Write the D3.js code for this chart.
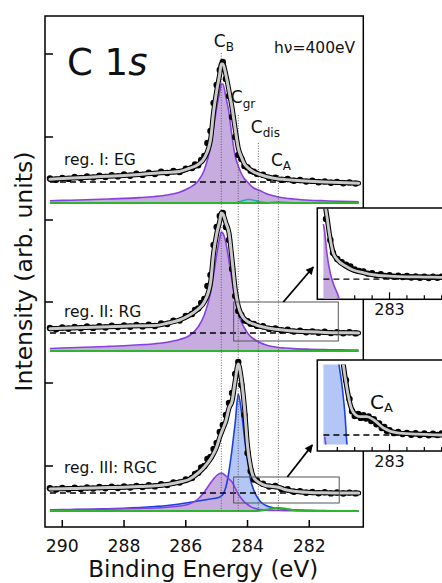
<!DOCTYPE html>
<html><head><meta charset="utf-8">
<script src="https://cdn.jsdelivr.net/npm/d3@7"></script>
<style>
html,body{margin:0;padding:0;background:#fff;}
svg{display:block;font-family:"DejaVu Sans",sans-serif;}
</style></head><body>
<svg id="chart" width="442" height="583"></svg>
<script>
// ---------- DATA (binding energy in eV, intensity in arb. units) ----------
const compE=[290.4,290.0,289.5,289.0,288.5,288.0,287.5,287.0,286.6,286.2,285.9,285.6,285.4,285.2,285.1,285.0,284.9,284.85,284.8,284.7,284.6,284.5,284.4,284.3,284.2,284.1,284.0,283.9,283.8,283.6,283.4,283.2,283.0,282.8,282.5,282.0,281.5,281.0,280.4];
const dataE=[290.4,290.2,290.0,289.8,289.6,289.4,289.2,289.0,288.8,288.6,288.4,288.2,288.0,287.8,287.6,287.4,287.2,287.0,286.8,286.6,286.4,286.2,286.0,285.8,
 285.7,285.6,285.5,285.4,285.3,285.2,285.1,285.0,284.9,284.8,284.7,284.6,284.5,284.4,284.3,284.2,284.1,284.0,283.9,283.8,283.7,
 283.5,283.3,283.1,282.9,282.7,282.5,282.3,282.1,281.9,281.7,281.5,281.3,281.1,280.9,280.7,280.5];

// region I: EG
const fitI=[23.7,24.4,25.2,26.0,26.8,27.6,28.6,29.8,30.6,31.5,34.5,38.5,45,63,91,112,129,139,139,128,112,95,74,55,46,39,35.5,33,31,28.5,26.5,25,24,23.5,22.8,21.8,21,20.4,19.8];
const purpleI=[2.2,2.6,3.0,3.5,4.0,4.6,5.4,6.5,8.0,10.8,15,22,33,56,76,95,112,119,119,106,90,66,47,37,29.5,24,21,17.5,15,12.5,9.5,7.5,6,5,4,2.8,2.2,1.7,1.3];
const blueI=[0,0,0,0,0,0,0,0,0,0,0,0,0,0,0,0,0,0,0,0,0,0,0.2,0.8,1.8,2.8,3.5,3.5,2.8,1.2,0.4,0.1,0,0,0,0,0,0,0];
const greenI=[0,0,0,0,0,0,0,0,0,0,0,0,0,0,0,0,0,0,0,0,0,0,0,0,0,0,0,0,0,0,0,0.4,0.7,0.4,0,0,0,0,0];
const dataI=[24.5,23.2,25.0,24.1,26.0,24.8,26.5,25.4,27.2,26.0,27.9,26.6,28.5,27.2,29.3,28.1,30.4,29.0,31.2,30.0,32.0,31.0,34.3,35.0,
 38.5,37.8,43,47,60,72,100,118,133,141,124,107,86,66,48,44,37,35.5,32.2,31.2,29.2,
 28.2,25.1,25.2,23.1,24.0,22.2,23.0,21.4,22.3,20.8,21.6,20.2,21.1,19.8,20.6,19.4];

// region II: RG
const fitII=[22.3,22.8,23.3,23.8,24.3,24.8,25.2,25.5,27.8,31,35.5,42,49,68,98,117,130,138,137,128,118,91,62,45,36.5,32,29.5,28,26.8,24.7,23.3,22.2,21.4,20.8,20,19.2,18.6,18.3,18];
const purpleII=[2.5,3,3.5,4,4.6,5.3,6.2,7.3,8.8,11.5,15,24,36,58,76,96,113,119,118,108,90,70,51,38,29,23,18,14.5,12,8.5,6,4.5,3.5,3,2.4,1.8,1.4,1.1,0.9];
const greenII=[0,0,0,0,0,0,0,0,0,0,0,0,0,0,0,0,0,0,0,0,0,0,0,0,0,0,0,0,0,0,0,0,0,0,0,0,0,0,0];
const dataII=[23.0,21.8,23.6,22.3,24.0,22.7,24.5,23.1,24.9,23.5,25.3,23.9,25.6,24.3,26.0,24.6,26.4,25.0,27.5,27.0,30.3,30.4,35.0,37.0,
 41.0,42.5,48,52,65,76,106,124,135,138,124,111,82,55,40,36,30.5,29.8,27.3,27.1,25.1,
 24.8,22.1,22.5,20.5,21.2,19.4,20.3,18.8,19.6,18.2,19.2,17.9,18.9,17.8,18.7,17.6];

// region III: RGC
const fitIII=[22,22.3,22.6,23,23.4,23.8,24.4,25.2,26.5,29,31.5,38,44,52,57.4,64,74,78,82,90,103,110,130,147,132,104,65,44,33.5,28,25.3,24.5,23.8,21.5,19.8,18.6,18.2,18,18];
const purpleIII=[1.2,1.4,1.6,1.8,2.0,2.3,2.6,3,3.8,5,6.8,12,19,28,32,35.5,37.5,38,37.5,35,32,29,23,17,12.5,9,6.5,4.4,3,1.5,0.9,0.6,0.5,0.4,0.3,0.2,0.15,0.1,0.1];
const blueIII=[0.6,1,1.4,1.8,2.3,2.8,3.5,4.5,5.5,7,8.5,10,11,12,12.5,13,14,15,16.5,24,40,62,88,117,100,74,50,31,21,10,5.5,3.5,2.5,1.8,1.2,0.7,0.4,0.2,0.1];
const greenIII=[0,0,0,0,0,0,0,0,0,0,0,0,0,0,0,0,0,0,0,0,0,0,0,0,0,0,0,0,0,0.3,1.2,2.6,3.3,2.4,0.8,0.1,0,0,0];
const dataIII=[22.8,21.5,23.1,21.8,23.3,22.0,23.6,22.4,24.0,22.7,24.3,23.0,24.6,23.4,25.1,24.0,25.8,24.6,26.7,25.9,28.6,28.4,31.6,33.0,
 37.0,38.2,43.5,45,52,54,62,68,79,86,96,108,118,137,149,126,96,58,40,31.5,30.8,
 27.3,24.4,25.0,22.0,21.7,19.2,19.9,18.3,19.0,17.8,18.7,17.6,18.5,17.5,18.4,17.6];

const bgLevel=[21,18,18];
const stackOffset=[324,176,16];
const regionLabels=['reg. I: EG','reg. II: RG','reg. III: RGC'];

const xTicks=[290,288,286,284,282];
const yTicks=[61,144,225,307,390,473];
const peakE=[284.85,284.3,283.65,283.0];
const peakSub=['B','gr','dis','A'];

// insets
const insetTicks=[283.6,283.4,283.2,283.0,282.8,282.6,282.4];
const insetMajor=[283];
const in2E=[283.73,283.68,283.65,283.60,283.55,283.50,283.45,283.40,283.35,283.30,283.25,283.20,283.15,283.10,283.05,283.00,282.95,282.90,282.85,282.80,282.75,282.70,282.65,282.60,282.55,282.50,282.45,282.40,282.35,282.30];
const in2Data=[44.2,35.1,29.4,26.8,25.4,24.3,23.5,22.2,21.6,21.3,20.4,20.6,19.7,20.1,19.4,19.7,19.0,19.5,18.9,19.4,18.7,19.2,18.6,19.1,18.5,19.0,18.6,19.1,18.5,18.9];
const in2FitE=[283.735,283.72,283.69,283.65,283.6,283.5,283.42,283.3,283.19,283.0,282.88,282.6,282.42,282.2];
const in2Fit=[49,45.5,37.5,29.8,26.5,23.6,22.0,20.8,19.9,19.3,19.1,18.9,18.8,18.7];
const in2PurpleE=[283.76,283.75,283.72,283.68,283.64,283.60,283.58,283.55,283.5];
const in2Purple=[42,40.1,29.3,20.5,15.4,11.8,9.6,7.5,5];

const in3E=[283.50,283.46,283.43,283.40,283.36,283.33,283.30,283.27,283.24,283.21,283.18,283.15,283.12,283.09,283.06,283.03,283.00,282.95,282.90,282.85,282.80,282.75,282.70,282.65,282.60,282.55,282.50,282.45,282.40,282.35,282.30];
const in3Data=[36.0,29.8,25.8,24.2,24.9,23.6,24.5,23.4,24.1,22.6,23.2,21.5,21.8,20.3,20.6,19.3,19.6,18.6,19.0,18.3,18.7,18.1,18.6,18.0,18.5,17.9,18.4,18.0,18.5,17.9,18.3];
const in3FitE=[283.56,283.53,283.49,283.45,283.39,283.34,283.26,283.18,283.07,282.91,282.7,282.42,282.2];
const in3Fit=[48,40.9,33.4,27.8,24.6,24.0,24.0,22.9,20.3,18.7,18.3,18.0,18.0];
const in3BlueE=[283.76,283.7,283.65,283.6,283.58,283.54,283.51,283.49,283.47,283.44];
const in3Blue=[80,70,58,45,41,32.8,24.0,15.4,13,11];
const in3PurpleE=[283.745,283.735,283.725];
const in3Purple=[17.5,15.5,13.5];

// ---------- DRAWING ----------
const W=442,H=583;
const COL={purpleLine:'#8a3fe0',purpleFill:'#c7addf',blueLine:'#1c3fe4',blueFill:'#b3c6f6',teal:'#23a6c8',green:'#2db52d',fit:'#c9c9c9'};
const svg=d3.select('#chart');
svg.append('rect').attr('width',W).attr('height',H).attr('fill','#fff');
const defs=svg.append('defs');
const frame={l:45,t:16,r:363.3,b:527};
const x=d3.scaleLinear().domain([290.56,280.25]).range([frame.l,frame.r]);
const y=d3.scaleLinear().domain([0,511]).range([frame.b,frame.t]);

defs.append('clipPath').attr('id','plotClip').append('rect')
  .attr('x',frame.l).attr('y',frame.t).attr('width',frame.r-frame.l).attr('height',frame.b-frame.t);
defs.append('marker').attr('id','ah').attr('viewBox','0 0 10 10').attr('refX',9).attr('refY',5)
  .attr('markerWidth',10).attr('markerHeight',8).attr('markerUnits','userSpaceOnUse').attr('orient','auto')
  .append('path').attr('d','M0,0L10,5L0,10Z').attr('fill','#000');

const plot=svg.append('g').attr('clip-path','url(#plotClip)');
const mkLine=(E,sx,sy,off)=>d3.line().x((d,i)=>sx(E[i])).y(d=>sy(off+d)).curve(d3.curveMonotoneX);
const mkArea=(E,sx,sy,off,base)=>d3.area().x((d,i)=>sx(E[i])).y0(base!==undefined?base:sy(off)).y1(d=>sy(off+d)).curve(d3.curveMonotoneX);

const regions=[
  {off:stackOffset[0],bg:bgLevel[0],fit:fitI,data:dataI,purple:purpleI,blue:blueI,blueColor:COL.teal,blueFill:false,green:greenI},
  {off:stackOffset[1],bg:bgLevel[1],fit:fitII,data:dataII,purple:purpleII,blue:null,green:greenII},
  {off:stackOffset[2],bg:bgLevel[2],fit:fitIII,data:dataIII,purple:purpleIII,blue:blueIII,blueColor:COL.blueLine,blueFill:true,green:greenIII}
];

// component fills and lines
regions.forEach(r=>{
  if(r.blue&&r.blueFill) plot.append('path').attr('d',mkArea(compE,x,y,r.off)(r.blue)).attr('fill',COL.blueFill);
  plot.append('path').attr('d',mkArea(compE,x,y,r.off)(r.purple)).attr('fill',COL.purpleFill);
});
regions.forEach(r=>{
  if(r.blue) plot.append('path').attr('d',mkLine(compE,x,y,r.off)(r.blue)).attr('fill','none').attr('stroke',r.blueColor).attr('stroke-width',1.6);
  plot.append('path').attr('d',mkLine(compE,x,y,r.off)(r.purple)).attr('fill','none').attr('stroke',COL.purpleLine).attr('stroke-width',1.6);
  plot.append('path').attr('d',mkLine(compE,x,y,r.off)(r.green)).attr('fill','none').attr('stroke',COL.green).attr('stroke-width',2);
});

// guide lines
const guideTop=[53,115,143,175];
peakE.forEach((e,i)=>{
  plot.append('line').attr('x1',x(e)).attr('x2',x(e)).attr('y1',guideTop[i]).attr('y2',y(stackOffset[2]))
    .attr('stroke','#444').attr('stroke-width',0.8).attr('stroke-dasharray','1,1.6');
});

// backgrounds, data, fits
regions.forEach(r=>{
  plot.append('line').attr('x1',x(compE[0])).attr('x2',x(compE[compE.length-1]))
    .attr('y1',y(r.off+r.bg)).attr('y2',y(r.off+r.bg))
    .attr('stroke','#000').attr('stroke-width',1.3).attr('stroke-dasharray','6,4');
  plot.append('g').selectAll('circle').data(r.data).join('circle')
    .attr('cx',(d,i)=>x(dataE[i])).attr('cy',d=>y(r.off+d)).attr('r',3.2).attr('fill','#000');
  const p=mkLine(compE,x,y,r.off)(r.fit);
  plot.append('path').attr('d',p).attr('fill','none').attr('stroke','#000').attr('stroke-width',5).attr('stroke-linecap','round').attr('stroke-linejoin','round');
  plot.append('path').attr('d',p).attr('fill','none').attr('stroke',COL.fit).attr('stroke-width',3).attr('stroke-linecap','round').attr('stroke-linejoin','round');
});

// zoom rectangles
const zoomRects=[{r:1,e0:284.45,e1:281.06,v0:10,v1:49},{r:2,e0:284.45,e1:281.03,v0:8,v1:34}];
zoomRects.forEach(z=>{
  const off=stackOffset[z.r];
  svg.append('rect').attr('x',x(z.e0)).attr('y',y(off+z.v1)).attr('width',x(z.e1)-x(z.e0)).attr('height',y(off+z.v0)-y(off+z.v1))
    .attr('fill','none').attr('stroke','#555').attr('stroke-width',1);
});

// frame and axes
svg.append('rect').attr('x',frame.l).attr('y',frame.t).attr('width',frame.r-frame.l).attr('height',frame.b-frame.t)
  .attr('fill','none').attr('stroke','#000').attr('stroke-width',1.5);
yTicks.forEach(v=>{
  svg.append('line').attr('x1',frame.l).attr('x2',frame.l+8).attr('y1',y(v)).attr('y2',y(v)).attr('stroke','#000').attr('stroke-width',1.5);
});
xTicks.forEach(v=>{
  svg.append('line').attr('x1',x(v)).attr('x2',x(v)).attr('y1',frame.b).attr('y2',frame.b-7).attr('stroke','#000').attr('stroke-width',1.5);
  svg.append('text').attr('x',x(v)).attr('y',551.7).attr('text-anchor','middle').attr('font-size','17.3px').attr('fill','#111').text(v);
});
svg.append('text').attr('x',203.3).attr('y',577.3).attr('text-anchor','middle').attr('font-size','23px').attr('fill','#111').text('Binding Energy (eV)');
svg.append('text').attr('transform','translate(32,271.5) rotate(-90)').attr('text-anchor','middle').attr('font-size','23.5px').attr('fill','#111').text('Intensity (arb. units)');

// titles and labels
const t1=svg.append('text').attr('x',67).attr('y',75).attr('font-size','37px').attr('fill','#111');
t1.append('tspan').text('C 1');
t1.append('tspan').attr('font-style','italic').text('s');
svg.append('text').attr('x',274).attr('y',53.3).attr('font-size','15.5px').attr('fill','#111').text('h\u03bd=400eV');
const regLabelY=[165,316.7,472.7];
regionLabels.forEach((s,i)=>{
  svg.append('text').attr('x',64).attr('y',regLabelY[i]).attr('font-size','15.5px').attr('fill','#111').text(s);
});
const peakLabelY=[46.7,103.3,132.7,165.7];
peakE.forEach((e,i)=>{
  const t=svg.append('text').attr('x',x(e)-7.5).attr('y',peakLabelY[i]).attr('font-size','17px').attr('fill','#111');
  t.append('tspan').text('C');
  t.append('tspan').attr('font-size','12px').attr('dy',4.5).text(peakSub[i]);
});

// arrows
const insetBoxes=[{x:317.3,y:208,w:150,h:91.3},{x:317.3,y:360,w:150,h:91}];
svg.append('line').attr('x1',x(282.84)).attr('y1',y(stackOffset[1]+49)).attr('x2',insetBoxes[0].x-4).attr('y2',insetBoxes[0].y+59)
  .attr('stroke','#000').attr('stroke-width',1.8).attr('marker-end','url(#ah)');
svg.append('line').attr('x1',x(282.71)).attr('y1',y(stackOffset[2]+34)).attr('x2',insetBoxes[1].x-5).attr('y2',insetBoxes[1].y+85)
  .attr('stroke','#000').attr('stroke-width',1.8).attr('marker-end','url(#ah)');

// ---------- INSETS ----------
const ix=d3.scaleLinear().domain([283.83,282.19]).range([317.3,460]);
const iy2=d3.scaleLinear().domain([9.2,49]).range([299.3,208]);
const iy3=d3.scaleLinear().domain([12.75,42.6]).range([451,360]);
function insetFrame(b,clipId,clip){
  svg.append('rect').attr('x',b.x).attr('y',b.y).attr('width',b.w).attr('height',b.h).attr('fill','#fff').attr('stroke','#000').attr('stroke-width',1.5);
  insetTicks.forEach(v=>{
    const major=insetMajor.includes(v);
    svg.append('line').attr('x1',ix(v)).attr('x2',ix(v)).attr('y1',b.y+b.h).attr('y2',b.y+b.h-(major?7:4)).attr('stroke','#000').attr('stroke-width',1.2);
  });
  insetMajor.forEach(v=>{
    svg.append('text').attr('x',ix(v)).attr('y',b.y+b.h+15.5).attr('text-anchor','middle').attr('font-size','16px').attr('fill','#111').text(v);
  });
  defs.append('clipPath').attr('id',clipId).append('rect').attr('x',clip.x).attr('y',clip.y).attr('width',clip.w).attr('height',clip.h);
  return svg.append('g').attr('clip-path',`url(#${clipId})`);
}
function insetFit(g,E,vals,sy,w1,w2){
  const p=mkLine(E,ix,sy,0)(vals);
  g.append('path').attr('d',p).attr('fill','none').attr('stroke','#000').attr('stroke-width',w1).attr('stroke-linecap','round');
  g.append('path').attr('d',p).attr('fill','none').attr('stroke',COL.fit).attr('stroke-width',w2).attr('stroke-linecap','round');
}
// inset II
const g2=insetFrame(insetBoxes[0],'clip2',{x:318.2,y:209,w:140,h:89.5});
g2.append('path').attr('d',mkArea(in2PurpleE,ix,iy2,0,iy2.range()[0])(in2Purple)).attr('fill',COL.purpleFill);
g2.append('path').attr('d',mkLine(in2PurpleE,ix,iy2,0)(in2Purple)).attr('fill','none').attr('stroke',COL.purpleLine).attr('stroke-width',1.6);
g2.append('line').attr('x1',ix(283.76)).attr('x2',ix(282.2)).attr('y1',iy2(bgLevel[1])).attr('y2',iy2(bgLevel[1])).attr('stroke','#000').attr('stroke-width',1.3).attr('stroke-dasharray','6,4');
g2.selectAll('circle').data(in2Data).join('circle').attr('cx',(d,i)=>ix(in2E[i])).attr('cy',d=>iy2(d)).attr('r',3.2).attr('fill','#000');
insetFit(g2,in2FitE,in2Fit,iy2,5,2.8);
// inset III
const g3=insetFrame(insetBoxes[1],'clip3',{x:318.2,y:364.5,w:140,h:80});
g3.append('path').attr('d',mkArea(in3BlueE,ix,iy3,0,iy3.range()[0])(in3Blue)).attr('fill',COL.blueFill);
g3.append('path').attr('d',mkLine(in3BlueE,ix,iy3,0)(in3Blue)).attr('fill','none').attr('stroke',COL.blueLine).attr('stroke-width',1.6);
g3.append('path').attr('d',mkLine(in3PurpleE,ix,iy3,0)(in3Purple)).attr('fill','none').attr('stroke',COL.purpleLine).attr('stroke-width',1.6);
g3.append('line').attr('x1',ix(283.76)).attr('x2',ix(282.2)).attr('y1',iy3(bgLevel[2])).attr('y2',iy3(bgLevel[2])).attr('stroke','#000').attr('stroke-width',1.3).attr('stroke-dasharray','6,4');
g3.selectAll('circle').data(in3Data).join('circle').attr('cx',(d,i)=>ix(in3E[i])).attr('cy',d=>iy3(d)).attr('r',3.2).attr('fill','#000');
insetFit(g3,in3FitE,in3Fit,iy3,5,2.8);
const ca=svg.append('text').attr('x',370).attr('y',409).attr('font-size','20px').attr('fill','#111');
ca.append('tspan').text('C');
ca.append('tspan').attr('font-size','13px').attr('dy',3).text('A');
</script>
</body></html>
